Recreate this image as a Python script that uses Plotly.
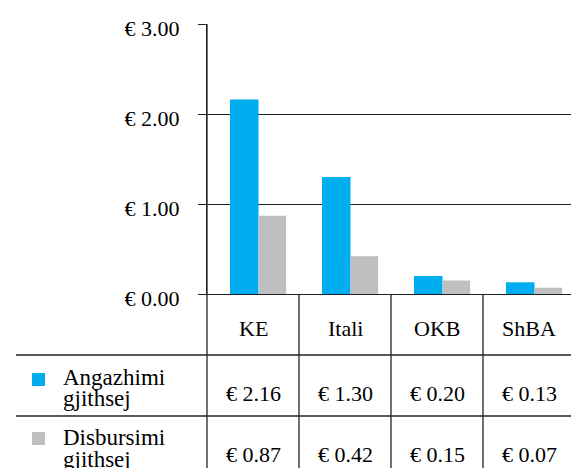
import plotly.graph_objects as go

categories = ["KE", "Itali", "OKB", "ShBA"]
series_names = ["Angazhimi gjithsej", "Disbursimi gjithsej"]
commitment = [2.16, 1.30, 0.20, 0.13]
disbursement = [0.87, 0.42, 0.15, 0.07]
y_ticks = [0, 1, 2, 3]
y_tick_labels = ["€ 0.00", "€ 1.00", "€ 2.00", "€ 3.00"]

BLUE = "#00AEEF"
GRAY = "#BEBFC1"
LINE = "#222222"
TXT = "#000000"
FONT = "Liberation Serif"
FS = 22

W, H = 571, 468
L, T, PW, PH = 207, 24, 364, 270


def px(xp):
    return (xp - L) / PW


def py(yp):
    return (T + PH - yp) / PH


fig = go.Figure()
fig.add_trace(go.Bar(x=categories, y=commitment, name=series_names[0],
                     marker=dict(color=BLUE, line=dict(width=0)),
                     offset=-0.25, width=0.31))
fig.add_trace(go.Bar(x=categories, y=disbursement, name=series_names[1],
                     marker=dict(color=GRAY, line=dict(width=0)),
                     offset=0.06, width=0.30))

shapes = []
shapes.append(dict(type="line", xref="paper", yref="paper", x0=0, x1=0,
                   y0=1, y1=py(H + 5), line=dict(color=LINE, width=1.3)))
for i in range(len(categories) - 1):
    shapes.append(dict(type="line", xref="x", yref="paper", x0=i + 0.5, x1=i + 0.5,
                       y0=0, y1=py(H + 5), line=dict(color=LINE, width=1.3)))
for yp in (355, 416):
    shapes.append(dict(type="line", xref="paper", yref="paper", x0=px(16), x1=px(W + 5),
                       y0=py(yp), y1=py(yp), line=dict(color=LINE, width=1.3)))
for col, ytop in [(BLUE, 373), (GRAY, 432)]:
    shapes.append(dict(type="rect", xref="paper", yref="paper", x0=px(32), x1=px(45),
                       y0=py(ytop), y1=py(ytop + 13), fillcolor=col, line=dict(width=0)))

annotations = []
for c in categories:
    annotations.append(dict(x=c, xref="x", y=py(328), yref="paper", text=c,
                            showarrow=False, xanchor="center", yanchor="middle",
                            font=dict(family=FONT, size=FS, color=TXT)))
for vals, yc in ((commitment, 393), (disbursement, 454)):
    for c, v in zip(categories, vals):
        annotations.append(dict(x=c, xref="x", y=py(yc), yref="paper",
                                text="€ %.2f" % v, showarrow=False,
                                xanchor="center", yanchor="middle",
                                font=dict(family=FONT, size=FS, color=TXT)))
for name, ytop in zip(series_names, (377, 438)):
    parts = name.split(" ")
    for j, part in enumerate(parts):
        annotations.append(dict(x=px(61), xref="paper", y=py(ytop + 21 * j), yref="paper",
                                text=part, showarrow=False, xanchor="left", yanchor="middle",
                                font=dict(family=FONT, size=FS + 1, color=TXT)))

fig.update_layout(
    width=W, height=H,
    margin=dict(l=L, r=W - L - PW, t=T, b=H - T - PH, pad=0),
    paper_bgcolor="white", plot_bgcolor="white",
    showlegend=False,
    bargap=0.4,
    shapes=shapes,
    annotations=annotations,
    font=dict(family=FONT, size=FS, color=TXT),
)
fig.update_xaxes(type="category", range=[-0.5, -0.5 + PW / 92], showticklabels=False,
                 showgrid=False, zeroline=False, showline=True, linecolor=LINE,
                 linewidth=1.3, ticks="")
fig.update_yaxes(range=[0, 3], tickvals=y_ticks, ticktext=y_tick_labels,
                 showgrid=True, gridcolor=LINE, gridwidth=1.3, zeroline=False,
                 showline=True, linecolor=LINE, linewidth=1.3,
                 ticks="outside", ticklen=8, tickcolor=LINE, tickwidth=1.3,
                 ticklabelstandoff=14, ticklabelshift=4,
                 tickfont=dict(family=FONT, size=FS, color=TXT))

fig.write_html("out.html", config={"displayModeBar": False},
               post_script="document.body.style.margin='0';document.body.style.overflow='hidden';")
